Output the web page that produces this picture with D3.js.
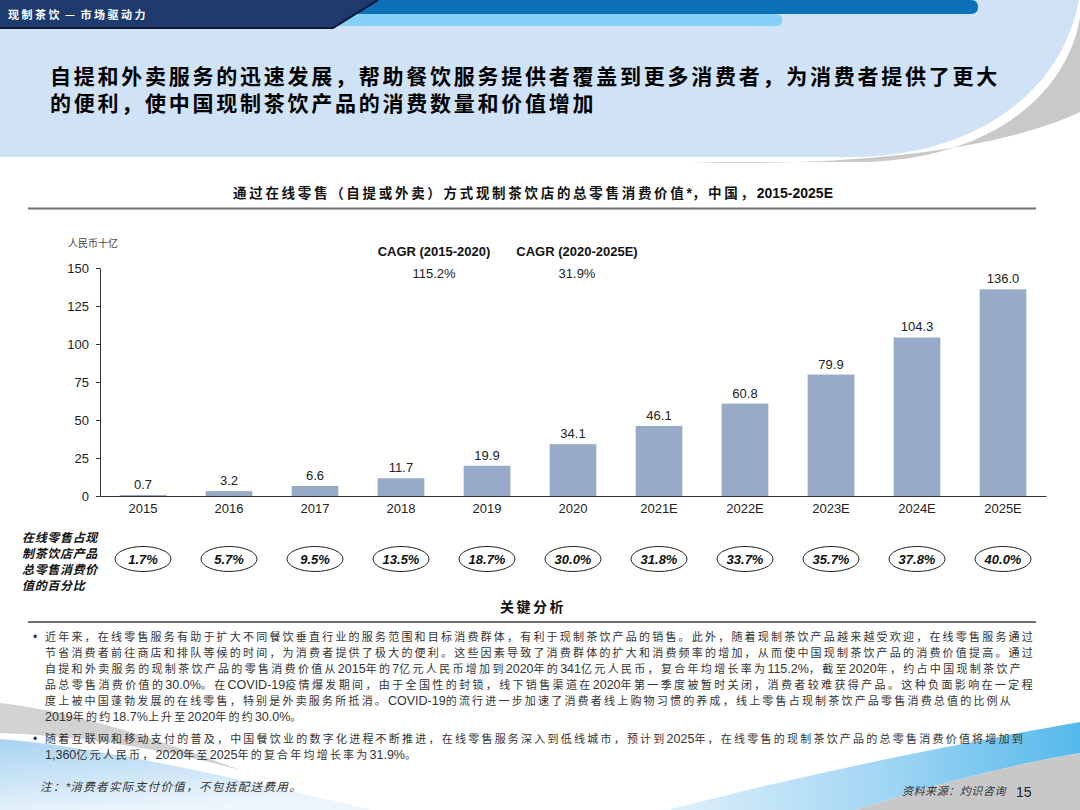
<!DOCTYPE html>
<html><head><meta charset="utf-8">
<script src="https://cdn.jsdelivr.net/npm/d3@7"></script>
<style>
html,body{margin:0;padding:0;background:#fff;}
svg{display:block;}
</style></head>
<body>
<svg id="chart" width="1080" height="810"></svg>
<script>
// ---------- DATA ----------
const years = ["2015","2016","2017","2018","2019","2020","2021E","2022E","2023E","2024E","2025E"];
const values = [0.7, 3.2, 6.6, 11.7, 19.9, 34.1, 46.1, 60.8, 79.9, 104.3, 136.0];
const valueLabels = ["0.7","3.2","6.6","11.7","19.9","34.1","46.1","60.8","79.9","104.3","136.0"];
const shares = ["1.7%","5.7%","9.5%","13.5%","18.7%","30.0%","31.8%","33.7%","35.7%","37.8%","40.0%"];
const yTicks = [0, 25, 50, 75, 100, 125, 150];
const cagrHeads = ["CAGR (2015-2020)", "CAGR (2020-2025E)"];
const cagrVals = ["115.2%", "31.9%"];
const headerText = "现制茶饮 — 市场驱动力";
const titleLines = ["自提和外卖服务的迅速发展，帮助餐饮服务提供者覆盖到更多消费者，为消费者提供了更大",
                    "的便利，使中国现制茶饮产品的消费数量和价值增加"];
const chartTitle = "通过在线零售（自提或外卖）方式现制茶饮店的总零售消费价值*，中国，2015-2025E";
const unitLabel = "人民币十亿";
const shareLabelLines = ["在线零售占现","制茶饮店产品","总零售消费价","值的百分比"];
const keyTitle = "关键分析";
const bullet1 = [
 "近年来，在线零售服务有助于扩大不同餐饮垂直行业的服务范围和目标消费群体，有利于现制茶饮产品的销售。此外，随着现制茶饮产品越来越受欢迎，在线零售服务通过",
 "节省消费者前往商店和排队等候的时间，为消费者提供了极大的便利。这些因素导致了消费群体的扩大和消费频率的增加，从而使中国现制茶饮产品的消费价值提高。通过",
 "自提和外卖服务的现制茶饮产品的零售消费价值从2015年的7亿元人民币增加到2020年的341亿元人民币，复合年均增长率为115.2%，截至2020年，约占中国现制茶饮产",
 "品总零售消费价值的30.0%。在COVID-19疫情爆发期间，由于全国性的封锁，线下销售渠道在2020年第一季度被暂时关闭，消费者较难获得产品。这种负面影响在一定程",
 "度上被中国蓬勃发展的在线零售，特别是外卖服务所抵消。COVID-19的流行进一步加速了消费者线上购物习惯的养成，线上零售占现制茶饮产品零售消费总值的比例从",
 "2019年的约18.7%上升至2020年的约30.0%。"
];
const bullet2 = [
 "随着互联网和移动支付的普及，中国餐饮业的数字化进程不断推进，在线零售服务深入到低线城市，预计到2025年，在线零售的现制茶饮产品的总零售消费价值将增加到",
 "1,360亿元人民币，2020年至2025年的复合年均增长率为31.9%。"
];
const noteText = "注：*消费者实际支付价值，不包括配送费用。";
const sourceText = "资料来源：灼识咨询";
const pageNum = "15";

// ---------- HELPERS ----------
const svg = d3.select("#chart");
const LATIN = '"Liberation Sans", Arial, sans-serif';
const CJK = '"Noto Sans CJK SC", "Noto Sans", sans-serif';

function richText(parent, str, o) {
  const t = parent.append("text")
    .attr("x", o.x).attr("y", o.y)
    .attr("fill", o.fill || "#333")
    .attr("font-weight", o.weight || "normal")
    .attr("font-style", o.style || "normal")
    .attr("text-anchor", o.anchor || "start");
  const runs = str.match(/[\x00-\x7F]+|[^\x00-\x7F]+/g);
  const cjk = [];
  let n = 0;
  runs.forEach(r => {
    const isLatin = /^[\x00-\x7F]+$/.test(r);
    const ts = t.append("tspan").text(r)
      .attr("font-family", isLatin ? LATIN : CJK)
      .attr("font-size", isLatin ? (o.latinSize || o.size) : o.size);
    if (!isLatin) { cjk.push(ts); n += r.length; }
  });
  let ls = o.ls || 0;
  if (o.target) {
    const w0 = t.node().getComputedTextLength();
    ls = (o.target - w0) / Math.max(n, 1);
  }
  cjk.forEach(ts => ts.attr("letter-spacing", ls));
  return ls;
}

// ---------- BACKGROUND DECORATION ----------
const defs = svg.append("defs");
const g1 = defs.append("linearGradient").attr("id","brBlue").attr("x1","0").attr("x2","1").attr("y1","0").attr("y2","0");
g1.append("stop").attr("offset","0").attr("stop-color","#e3f1fb");
g1.append("stop").attr("offset","0.55").attr("stop-color","#9fd5f3");
g1.append("stop").attr("offset","1").attr("stop-color","#55b9ec");
const g2 = defs.append("linearGradient").attr("id","blBlue").attr("x1","0").attr("x2","0.4").attr("y1","0").attr("y2","1");
g2.append("stop").attr("offset","0").attr("stop-color","#a8d3f1");
g2.append("stop").attr("offset","1").attr("stop-color","#eef6fc");

const deco = svg.append("g");
deco.append("path").attr("d","M0,0 H1079 C1062,90 980,153 860,157 H0 Z").attr("fill","#cfe2f6");
deco.append("path").attr("d","M1080,18 C1066,98 985,161 860,162 L690,162 C850,167 1000,150 1080,112 Z").attr("fill","#c9c9c9");
deco.append("path").attr("d","M300,0 H971 Q978,0 978,7 Q978,14 971,14 H300 Z").attr("fill","#0b70b5");
deco.append("path").attr("d","M300,14 H776 Q782,14 782,20 Q782,26 776,26 H300 Z").attr("fill","#86cff6");
deco.append("path").attr("d","M0,0 H378 L333,28 H0 Z").attr("fill","#1f3a6d");
deco.append("path").attr("d","M378,0 L333,28 H0").attr("fill","none").attr("stroke","#0c1833").attr("stroke-width",2);
// bottom-left swoosh
deco.append("path").attr("d","M0,703 C70,711 150,736 240,770 C160,748 80,736 0,733 Z").attr("fill","#d2d2d2");
deco.append("path").attr("d","M0,739 C90,746 230,776 380,812 L0,812 Z").attr("fill","url(#blBlue)");
// bottom-right swoosh
deco.append("path").attr("d","M660,812 C800,775 950,745 1080,722 V753 C1010,765 930,785 850,812 Z").attr("fill","url(#brBlue)");
deco.append("path").attr("d","M850,812 C930,785 1010,765 1080,753 V812 Z").attr("fill","#c8c8c8");

// header text
richText(svg, headerText, {x:8, y:19, size:11, fill:"#fff", weight:"bold", target:140});

// main title
const tls = richText(svg, titleLines[0], {x:50, y:84, size:21, fill:"#000", weight:"bold", target:950});
richText(svg, titleLines[1], {x:50, y:111, size:21, fill:"#000", weight:"bold", ls:tls});

// chart title
richText(svg, chartTitle, {x:233, y:198, size:13.5, latinSize:14, fill:"#111", weight:"bold", target:600});
svg.append("line").attr("x1",28).attr("x2",1036).attr("y1",208.5).attr("y2",208.5)
  .attr("stroke","#6f6f6f").attr("stroke-width",2);

// ---------- CHART ----------
const x = d3.scaleBand().domain(years).range([100, 1046]).paddingInner(0.457).paddingOuter(0.2285);
const y = d3.scaleLinear().domain([0, 150]).range([496, 268]);

const yAxis = svg.append("g").attr("transform","translate(100,0)")
  .call(d3.axisLeft(y).tickValues(yTicks).tickSize(4).tickSizeOuter(0).tickPadding(7));
yAxis.selectAll("text").attr("font-family", LATIN).attr("font-size", 13).attr("fill","#222");
yAxis.selectAll("line,path").attr("stroke","#333");

svg.append("g").selectAll("rect").data(values).join("rect")
  .attr("x", (d,i) => x(years[i]))
  .attr("width", x.bandwidth())
  .attr("y", d => y(d))
  .attr("height", d => y(0) - y(d))
  .attr("fill", "#97abc8");

svg.append("g").selectAll("text").data(values).join("text")
  .attr("x", (d,i) => x(years[i]) + x.bandwidth()/2)
  .attr("y", d => y(d) - 6)
  .attr("text-anchor","middle")
  .attr("font-family", LATIN).attr("font-size", 13).attr("fill","#222")
  .text((d,i) => valueLabels[i]);

const xAxis = svg.append("g").attr("transform","translate(0,496)")
  .call(d3.axisBottom(x).tickSize(0).tickSizeOuter(0).tickPadding(8));
xAxis.selectAll("text").attr("font-family", LATIN).attr("font-size", 13).attr("fill","#222");
xAxis.select("path").attr("stroke","#333");

// unit label
richText(svg, unitLabel, {x:68, y:247, size:10, fill:"#444"});

// CAGR annotations
const cagrX = [434, 577];
cagrHeads.forEach((h,i) => {
  svg.append("text").attr("x", cagrX[i]).attr("y", 256).attr("text-anchor","middle")
    .attr("font-family", LATIN).attr("font-size", 13).attr("font-weight","bold").attr("fill","#111").text(h);
  svg.append("text").attr("x", cagrX[i]).attr("y", 278).attr("text-anchor","middle")
    .attr("font-family", LATIN).attr("font-size", 13).attr("fill","#222").text(cagrVals[i]);
});

// share row
const shareY = 559;
const sg = svg.append("g").selectAll("g").data(shares).join("g")
  .attr("transform", (d,i) => `translate(${x(years[i]) + x.bandwidth()/2},${shareY})`);
sg.append("ellipse").attr("rx", 28).attr("ry", 12.5).attr("fill","#fff").attr("stroke","#222").attr("stroke-width",1);
sg.append("text").attr("text-anchor","middle").attr("dy","0.36em")
  .attr("font-family", LATIN).attr("font-size", 13).attr("font-weight","bold").attr("font-style","italic")
  .attr("fill","#111").text(d => d);

let sls = 0;
shareLabelLines.forEach((l,i) => {
  if (i === 0) sls = richText(svg, l, {x:22, y:541.5 + i*16, size:12, fill:"#111", weight:"bold", style:"italic", target:76});
  else richText(svg, l, {x:22, y:541.5 + i*16, size:12, fill:"#111", weight:"bold", style:"italic", ls:sls});
});

// key analysis
richText(svg, keyTitle, {x:533, y:612, size:14, fill:"#111", weight:"bold", anchor:"middle", ls:2.5});
svg.append("line").attr("x1",28).attr("x2",1036).attr("y1",622).attr("y2",622)
  .attr("stroke","#6f6f6f").attr("stroke-width",2);

// bullets
const b1Targets = [990, 990, 978, 990, 968, null];
const b1Y = [641, 657, 673, 689, 705, 721];
let bls = 2.2;
bullet1.forEach((l,i) => {
  const o = {x:45, y:b1Y[i], size:11, latinSize:12.5, fill:"#333"};
  if (b1Targets[i]) { o.target = b1Targets[i]; const r = richText(svg, l, o); if (i===0) bls = r; }
  else { o.ls = bls; richText(svg, l, o); }
});
const b2Y = [743, 759];
richText(svg, bullet2[0], {x:45, y:b2Y[0], size:11, latinSize:12.5, fill:"#333", target:980});
richText(svg, bullet2[1], {x:45, y:b2Y[1], size:11, latinSize:12.5, fill:"#333", ls:bls});
[b1Y[0], b2Y[0]].forEach(yy => {
  svg.append("text").attr("x",33).attr("y",yy).attr("font-family",LATIN).attr("font-size",12).attr("fill","#333").text("•");
});

// footnotes
richText(svg, noteText, {x:40, y:791, size:11.5, fill:"#333", style:"italic", target:262});
richText(svg, sourceText, {x:902, y:795, size:11, fill:"#333", style:"italic", target:104});
svg.append("text").attr("x",1016).attr("y",797).attr("font-family",LATIN).attr("font-size",14).attr("fill","#222").text(pageNum);
</script>
</body></html>
